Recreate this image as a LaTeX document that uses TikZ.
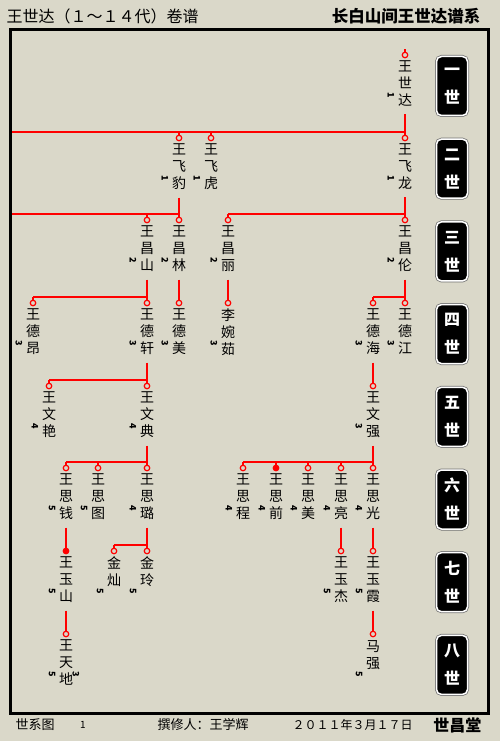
\documentclass[tikz,border=0pt]{standalone}
\usepackage{fontspec}
\setmainfont{Noto Sans CJK SC}
\usetikzlibrary{positioning}
\definecolor{paper}{RGB}{218,216,201}

\begin{document}
\begin{tikzpicture}[x=1pt,y=-1pt,
  link/.style={draw=red,line width=2pt},
  ring/.style={circle,draw=red,fill=paper,line width=1.2pt,minimum size=5.5pt,inner sep=0pt},
  bead/.style={ring,fill=red},
  member/.style={align=center,inner sep=0.5pt,font=\fontsize{14}{17}\selectfont},
  gennum/.style={rotate=-90,inner sep=0pt,font=\bfseries\fontsize{9}{9}\selectfont},
  genbox/.style={rounded corners=5pt,fill=black,draw=white,line width=1.5pt,
    preaction={draw=black!55,line width=3pt},minimum width=31pt,minimum height=59pt,
    text=white,align=center,font=\bfseries\fontsize{16}{28}\selectfont}]
\useasboundingbox (0,0) rectangle (500,741);
\fill[paper] (0,0) rectangle (500,741);

% titles
\node[anchor=west,font=\fontsize{16}{16}\selectfont] (title) at (3,16) {王世达（１～１４代）卷谱};
\node[anchor=east,font=\bfseries\fontsize{16.5}{16.5}\selectfont] (hall) at (484,16) {长白山间王世达谱系};

% family members
\foreach \n/\x/\g/\s/\a/\b/\c/\d in {
  shida/405/1/ring/王/世/达/1,
  feibao/179/2/ring/王/飞/豹/1,
  feihu/211/2/ring/王/飞/虎/1,
  feilong/405/2/ring/王/飞/龙/1,
  changshan/147/3/ring/王/昌/山/2,
  changlin/179/3/ring/王/昌/林/2,
  changli/228/3/ring/王/昌/丽/2,
  changlun/405/3/ring/王/昌/伦/2,
  deang/33/4/ring/王/德/昂/3,
  dexuan/147/4/ring/王/德/轩/3,
  demei/179/4/ring/王/德/美/3,
  wanru/228/4/ring/李/婉/茹/3,
  dehai/373/4/ring/王/德/海/3,
  dejiang/405/4/ring/王/德/江/3,
  wenyan/49/5/ring/王/文/艳/4,
  wendian/147/5/ring/王/文/典/4,
  wenqiang/373/5/ring/王/文/强/3,
  siqian1/66/6/ring/王/思/钱/5,
  situ/98/6/ring/王/思/图/5,
  silu/147/6/ring/王/思/璐/4,
  sicheng/243/6/ring/王/思/程/4,
  siqian2/276/6/bead/王/思/前/4,
  simei/308/6/ring/王/思/美/4,
  siliang/341/6/ring/王/思/亮/4,
  siguang/373/6/ring/王/思/光/4,
  yushan/66/7/bead/王/玉/山/5,
  jincan/114/7/ring/金/灿//5,
  jinling/147/7/ring/金/玲//5,
  yujie/341/7/ring/王/玉/杰/5,
  yuxia/373/7/ring/王/玉/霞/5,
  tiandi/66/8/ring/王/天/地/5,
  maqiang/373/8/ring/马/强//5}{
  \node[\s] (\n) at (\x,{round(55+82.7*(\g-1))}) {};
  \node[member,below=2pt of \n] (\n-n) {\a\\\b\\\c};
  \node[gennum] at ([xshift=-14pt,yshift=-40pt]\n.center) {\d};
  \draw[link] (\n) -- ([yshift=6pt]\n.center);
}
\node[gennum] at ([xshift=10pt,yshift=-40pt]tiandi.center) {3};

% generation 1 -> 2
\coordinate (edge1) at (10,132);
\coordinate (edge2) at (10,214);
\draw[link] ([yshift=-7pt]shida-n.south) -- (feilong);
\draw[link] (edge1) -- ([yshift=6pt]feilong.center);
% generation 2 -> 3
\draw[link] ([yshift=-7pt]feibao-n.south) -- (changlin);
\draw[link] (edge2) -- ([yshift=6pt]changlin.center);
\draw[link] ([yshift=-7pt]feilong-n.south) -- (changlun);
\draw[link] ([yshift=6pt]changli.center) -- ([yshift=6pt]changlun.center);
% generation 3 -> 4
\draw[link] ([yshift=-7pt]changshan-n.south) -- (dexuan);
\draw[link] ([yshift=6pt]deang.center) -- ([yshift=6pt]dexuan.center);
\draw[link] ([yshift=-7pt]changlin-n.south) -- (demei);
\draw[link] ([yshift=-7pt]changli-n.south) -- (wanru);
\draw[link] ([yshift=-7pt]changlun-n.south) -- (dejiang);
\draw[link] ([yshift=6pt]dehai.center) -- ([yshift=6pt]dejiang.center);
% generation 4 -> 5
\draw[link] ([yshift=-7pt]dexuan-n.south) -- (wendian);
\draw[link] ([yshift=6pt]wenyan.center) -- ([yshift=6pt]wendian.center);
\draw[link] ([yshift=-7pt]dehai-n.south) -- (wenqiang);
% generation 5 -> 6
\draw[link] ([yshift=-7pt]wendian-n.south) -- (silu);
\draw[link] ([yshift=6pt]siqian1.center) -- ([yshift=6pt]silu.center);
\draw[link] ([yshift=-7pt]wenqiang-n.south) -- (siguang);
\draw[link] ([yshift=6pt]sicheng.center) -- ([yshift=6pt]siguang.center);
% generation 6 -> 7
\draw[link] ([yshift=-7pt]siqian1-n.south) -- (yushan);
\draw[link] ([yshift=-7pt]silu-n.south) -- (jinling);
\draw[link] ([yshift=6pt]jincan.center) -- ([yshift=6pt]jinling.center);
\draw[link] ([yshift=-7pt]siliang-n.south) -- (yujie);
\draw[link] ([yshift=-7pt]siguang-n.south) -- (yuxia);
% generation 7 -> 8
\draw[link] ([yshift=-7pt]yushan-n.south) -- (tiandi);
\draw[link] ([yshift=-7pt]yuxia-n.south) -- (maqiang);

% frame
\draw[line width=3pt] (10,30) rectangle (488,713);

% generation labels
\foreach \g [count=\i from 0] in {一,二,三,四,五,六,七,八}
  \node[genbox] (gen\i) at (452,{86+82.7*\i}) {\g\\世};

% footer
\node[anchor=west,font=\fontsize{13}{13}\selectfont] (chart) at (12,725) {世系图};
\node[font=\fontsize{10}{10}\selectfont] (page) at (83,725) {1};
\node[anchor=west,font=\fontsize{13}{13}\selectfont] (editor) at (154,725) {撰修人：王学辉};
\node[anchor=west,font=\fontsize{12}{12}\selectfont] (date) at (289,725) {２０１１年３月１７日};
\node[anchor=east,font=\bfseries\fontsize{16}{16}\selectfont] (seal) at (485,725) {世昌堂};
\end{tikzpicture}
\end{document}
